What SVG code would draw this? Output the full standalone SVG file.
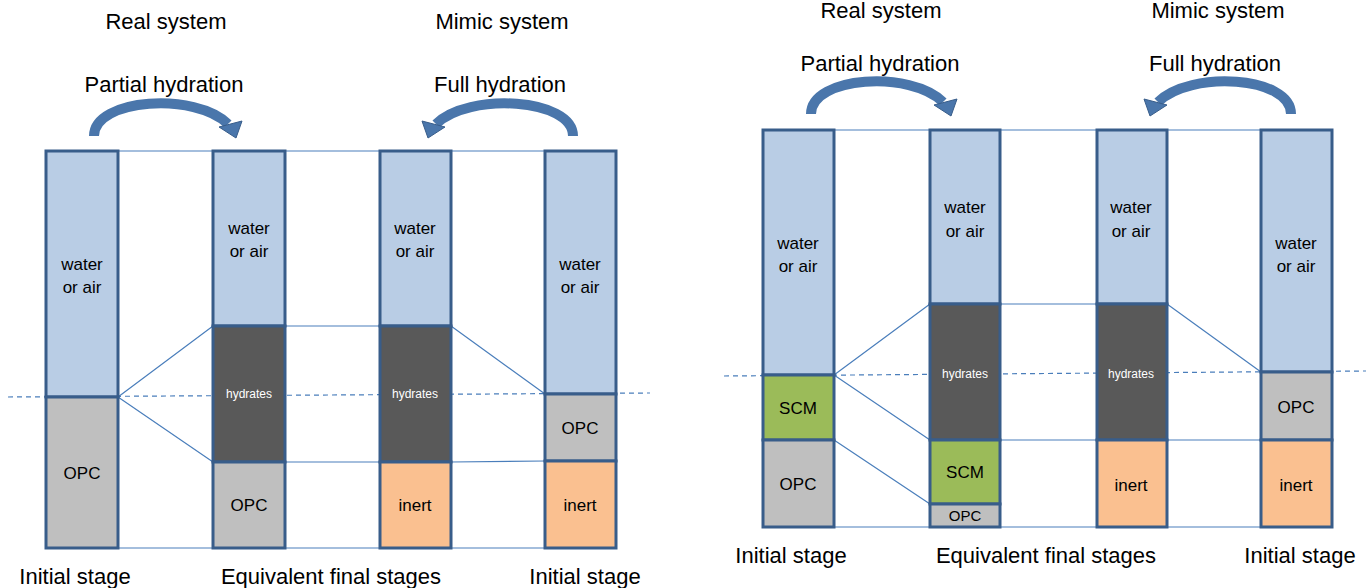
<svg xmlns="http://www.w3.org/2000/svg" width="1372" height="588" viewBox="0 0 1372 588">
<defs>
<style>
.seg{stroke:#385d8a;stroke-width:3}
.w{fill:#b9cde5}.g{fill:#bfbfbf}.h{fill:#595959}.o{fill:#fac090}.s{fill:#9bbb59}
.ln{stroke:#4a7ebb;stroke-width:1.2;fill:none}
.dash{stroke:#4a7ebb;stroke-width:1.2;stroke-dasharray:5,4;fill:none}
.t{font-family:"Liberation Sans",Arial,sans-serif;fill:#000;text-anchor:middle}
.big{font-size:22px}
.lab{font-size:17px}
.hy{font-size:12px;fill:#fff}
.arc{fill:none;stroke:#4a76ab;stroke-width:10}
.ah{fill:#4a76ab;stroke:#385d8a;stroke-width:1}
</style>
</defs>
<rect width="1372" height="588" fill="#fff"/>

<g id="connectors">
<path class="dash" d="M8,397 L650,393"/>
<path class="ln" d="M118,151H213M285,151H380M451,151H545M118,548H213M285,548H380M451,548H545"/>
<path class="ln" d="M118,397L213,326M118,397L213,462M285,326H380M285,462H380M451,326L545,394M451,462L545,461"/>
<path class="dash" d="M724,376 L1366,371"/>
<path class="ln" d="M834,130H930M1000,130H1097M1167,130H1261M834,527H930M1000,527H1097M1167,527H1261"/>
<path class="ln" d="M834,375L930,304M834,375L930,440M834,440L930,504M1000,304H1097M1000,440H1097M1167,304L1261,372M1167,440L1261,440"/>
</g>

<g id="arrows">
<path class="arc" d="M94,136 C94,98 196,92 228,124"/>
<polygon class="ah" points="219,127 242,121 236,138"/>
<path class="arc" d="M573,136 C573,98 468,92 436,124"/>
<polygon class="ah" points="445,127 422,121 428,138"/>
<path class="arc" d="M811,114 C811,76 911,70 943,102"/>
<polygon class="ah" points="934,105 957,99 951,116"/>
<path class="arc" d="M1291,114 C1291,76 1190,70 1158,102"/>
<polygon class="ah" points="1167,105 1144,99 1150,116"/>
</g>

<g id="titles">
<text class="t big" x="166" y="29">Real system</text>
<text class="t big" x="502" y="29">Mimic system</text>
<text class="t big" x="164" y="92">Partial hydration</text>
<text class="t big" x="500" y="92">Full hydration</text>
<text class="t big" x="75" y="584">Initial stage</text>
<text class="t big" x="331" y="584">Equivalent final stages</text>
<text class="t big" x="585" y="584">Initial stage</text>
<text class="t big" x="881" y="18">Real system</text>
<text class="t big" x="1218" y="18">Mimic system</text>
<text class="t big" x="880" y="71">Partial hydration</text>
<text class="t big" x="1215" y="71">Full hydration</text>
<text class="t big" x="791" y="563">Initial stage</text>
<text class="t big" x="1046" y="563">Equivalent final stages</text>
<text class="t big" x="1300" y="563">Initial stage</text>
</g>

<g id="L-col1">
<rect class="seg w" x="46" y="151" width="72" height="246"/>
<rect class="seg g" x="46" y="397" width="72" height="151"/>
<text class="t lab" x="82" y="270">water</text>
<text class="t lab" x="82" y="293">or air</text>
<text class="t lab" x="82" y="479">OPC</text>
</g>
<g id="L-col2">
<rect class="seg w" x="213" y="151" width="72" height="175"/>
<rect class="seg h" x="213" y="326" width="72" height="136"/>
<rect class="seg g" x="213" y="462" width="72" height="86"/>
<text class="t lab" x="249" y="234">water</text>
<text class="t lab" x="249" y="257">or air</text>
<text class="t hy" x="249" y="398">hydrates</text>
<text class="t lab" x="249" y="511">OPC</text>
</g>
<g id="L-col3">
<rect class="seg w" x="380" y="151" width="71" height="175"/>
<rect class="seg h" x="380" y="326" width="71" height="136"/>
<rect class="seg o" x="380" y="462" width="71" height="86"/>
<text class="t lab" x="415" y="234">water</text>
<text class="t lab" x="415" y="257">or air</text>
<text class="t hy" x="415" y="398">hydrates</text>
<text class="t lab" x="415" y="511">inert</text>
</g>
<g id="L-col4">
<rect class="seg w" x="545" y="151" width="71" height="243"/>
<rect class="seg g" x="545" y="394" width="71" height="67"/>
<rect class="seg o" x="545" y="461" width="71" height="87"/>
<text class="t lab" x="580" y="270">water</text>
<text class="t lab" x="580" y="293">or air</text>
<text class="t lab" x="580" y="434">OPC</text>
<text class="t lab" x="580" y="511">inert</text>
</g>

<g id="R-col1">
<rect class="seg w" x="763" y="130" width="71" height="245"/>
<rect class="seg s" x="763" y="375" width="71" height="65"/>
<rect class="seg g" x="763" y="440" width="71" height="87"/>
<text class="t lab" x="798" y="249">water</text>
<text class="t lab" x="798" y="272">or air</text>
<text class="t lab" x="798" y="414">SCM</text>
<text class="t lab" x="798" y="490">OPC</text>
</g>
<g id="R-col2">
<rect class="seg w" x="930" y="130" width="70" height="174"/>
<rect class="seg h" x="930" y="304" width="70" height="136"/>
<rect class="seg s" x="930" y="440" width="70" height="64"/>
<rect class="seg g" x="930" y="504" width="70" height="23"/>
<text class="t lab" x="965" y="213">water</text>
<text class="t lab" x="965" y="237">or air</text>
<text class="t hy" x="965" y="378">hydrates</text>
<text class="t lab" x="965" y="478">SCM</text>
<text class="t" style="font-size:15px" x="965" y="521">OPC</text>
</g>
<g id="R-col3">
<rect class="seg w" x="1097" y="130" width="70" height="174"/>
<rect class="seg h" x="1097" y="304" width="70" height="136"/>
<rect class="seg o" x="1097" y="440" width="70" height="87"/>
<text class="t lab" x="1131" y="213">water</text>
<text class="t lab" x="1131" y="237">or air</text>
<text class="t hy" x="1131" y="378">hydrates</text>
<text class="t lab" x="1131" y="491">inert</text>
</g>
<g id="R-col4">
<rect class="seg w" x="1261" y="130" width="71" height="242"/>
<rect class="seg g" x="1261" y="372" width="71" height="68"/>
<rect class="seg o" x="1261" y="440" width="71" height="87"/>
<text class="t lab" x="1296" y="249">water</text>
<text class="t lab" x="1296" y="272">or air</text>
<text class="t lab" x="1296" y="413">OPC</text>
<text class="t lab" x="1296" y="491">inert</text>
</g>
</svg>
